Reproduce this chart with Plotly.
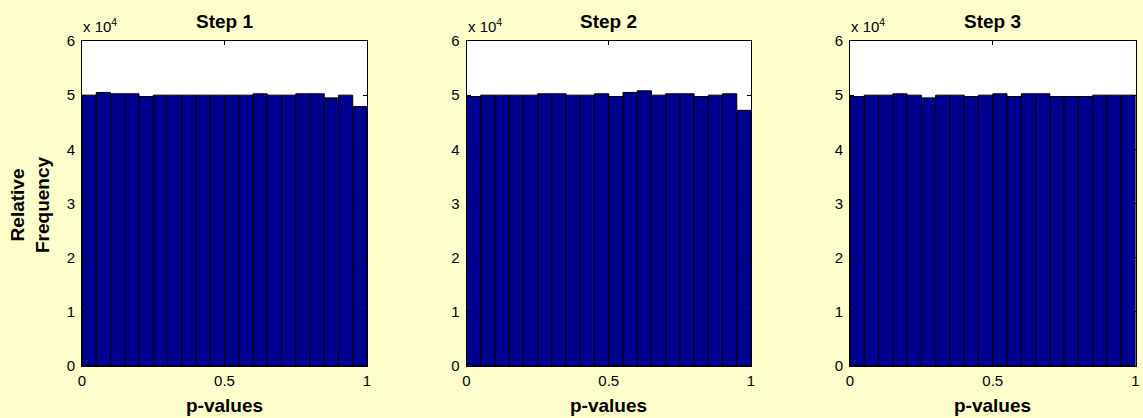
import plotly.graph_objects as go

bin_edges = [i * 0.05 for i in range(21)]
step1 = [50000, 50500, 50250, 50250, 49750, 50000, 50000, 50000, 50000, 50000,
         50000, 50000, 50250, 50000, 50000, 50250, 50250, 49500, 50000, 47900]
step2 = [49750, 50000, 50000, 50000, 50000, 50250, 50250, 50000, 50000, 50250,
         49750, 50500, 50800, 50000, 50250, 50250, 49750, 50000, 50250, 47200]
step3 = [49750, 50000, 50000, 50250, 50000, 49500, 50000, 50000, 49750, 50000,
         50250, 49750, 50250, 50250, 49750, 49750, 49750, 50000, 50000, 50000]
titles = ["Step 1", "Step 2", "Step 3"]
ytick_vals = [0, 10000, 20000, 30000, 40000, 50000, 60000]
ytick_text = ["0", "1", "2", "3", "4", "5", "6"]
xtick_vals = [0, 0.5, 1]
xtick_text = ["0", "0.5", "1"]

centers = [(bin_edges[i] + bin_edges[i + 1]) / 2 for i in range(20)]
widths = [bin_edges[i + 1] - bin_edges[i] for i in range(20)]

W, H = 1143, 418
xdoms = [(82 / W, 367 / W), (466.5 / W, 751 / W), (850 / W, 1135.5 / W)]
ydom = (1 - 366 / H, 1 - 41 / H)
FONT = "Liberation Sans, Arial, sans-serif"

fig = go.Figure()
layout = dict(
    width=W, height=H,
    margin=dict(l=0, r=0, t=0, b=0, autoexpand=False),
    paper_bgcolor="#FFFFCC",
    plot_bgcolor="white",
    showlegend=False,
    font=dict(family=FONT, size=15, color="black"),
    annotations=[],
)
for k, (vals, title) in enumerate(zip([step1, step2, step3], titles)):
    xa = "x" if k == 0 else f"x{k+1}"
    ya = "y" if k == 0 else f"y{k+1}"
    fig.add_trace(go.Bar(
        x=centers, y=vals, width=widths,
        marker=dict(color="#000090", line=dict(color="black", width=1)),
        xaxis=xa, yaxis=ya,
    ))
    xkey = "xaxis" if k == 0 else f"xaxis{k+1}"
    ykey = "yaxis" if k == 0 else f"yaxis{k+1}"
    layout[xkey] = dict(
        domain=list(xdoms[k]), range=[0, 1], anchor=ya, automargin=False,
        tickvals=xtick_vals, ticktext=xtick_text,
        ticks="inside", ticklen=4, tickcolor="black",
        showline=True, linecolor="black", linewidth=1, mirror="allticks",
        showgrid=False, zeroline=False, ticklabelstandoff=1,
        tickfont=dict(family=FONT, size=15),
    )
    layout[ykey] = dict(
        domain=list(ydom), range=[0, 60000], anchor=xa, automargin=False,
        tickvals=ytick_vals, ticktext=ytick_text,
        ticks="inside", ticklen=4, tickcolor="black",
        showline=True, linecolor="black", linewidth=1, mirror="allticks",
        showgrid=False, zeroline=False, ticklabelstandoff=3,
        tickfont=dict(family=FONT, size=15),
    )
    x0, x1 = xdoms[k]
    layout["annotations"].append(dict(
        text="<b>" + title + "</b>", x=(x0 + x1) / 2, y=1 - 22 / H, xref="paper", yref="paper",
        xanchor="center", yanchor="middle", showarrow=False,
        font=dict(family=FONT, size=19, color="black"),
    ))
    layout["annotations"].append(dict(
        text="<b>p-values</b>", x=(x0 + x1) / 2, y=1 - 405 / H, xref="paper", yref="paper",
        xanchor="center", yanchor="middle", showarrow=False,
        font=dict(family=FONT, size=19, color="black"),
    ))
    layout["annotations"].append(dict(
        text="x 10<sup>4</sup>", x=x0, y=ydom[1], xref="paper", yref="paper",
        xanchor="left", yanchor="bottom", yshift=4, xshift=-1, showarrow=False,
        font=dict(family=FONT, size=15, color="black"),
    ))

layout["annotations"].append(dict(
    text="<b>Relative<br>Frequency</b>", x=30 / W, y=1 - 205 / H, xref="paper", yref="paper",
    xanchor="center", yanchor="middle", textangle=-90, showarrow=False,
    font=dict(family=FONT, size=19, color="black"),
))

fig.update_layout(**layout)
fig.write_html("out.html")
